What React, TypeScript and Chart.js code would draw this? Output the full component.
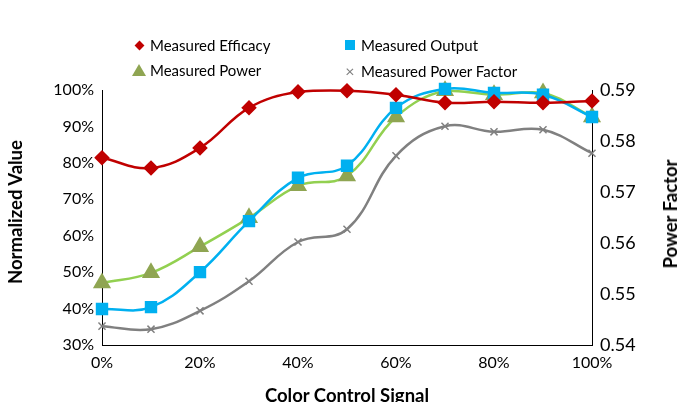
import React, { useEffect, useRef } from "react";
import { Chart, registerables } from "chart.js";
Chart.register(...registerables);

const signal = [0, 10, 20, 30, 40, 50, 60, 70, 80, 90, 100];
const efficacy = [81.4, 78.6, 84.1, 95.1, 99.5, 99.8, 98.7, 96.5, 96.8, 96.5, 97];
const output = [39.9, 40.4, 50, 64, 75.9, 79.2, 95.1, 100.3, 99.2, 98.7, 92.6];
const power = [47, 49.8, 57, 64.9, 73.7, 76.4, 92.6, 99.8, 98.7, 99.2, 92.6];
const powerFactor = [0.5437, 0.5431, 0.5467, 0.5525, 0.5602, 0.5627, 0.5771, 0.5829, 0.5818, 0.5822, 0.5776];

const FONT = "Lato, 'Open Sans', sans-serif";

export default function App() {
  const ref = useRef<HTMLCanvasElement>(null);
  useEffect(() => {
    document.body.style.margin = "0";
    const pts = (a: number[]) => a.map((v, i) => ({ x: signal[i], y: v }));
    const chart = new Chart(ref.current!, {
      type: "line",
      data: {
        datasets: [
          { label: "Measured Efficacy", data: pts(efficacy), borderColor: "#C00000", backgroundColor: "#C00000", pointStyle: "rectRot", pointRadius: 6, borderWidth: 2.5, tension: 0.4, yAxisID: "y", clip: false },
          { label: "Measured Output", data: pts(output), borderColor: "#00B0F0", backgroundColor: "#00B0F0", pointStyle: "rect", pointRadius: 7, borderWidth: 2.5, tension: 0.4, yAxisID: "y", clip: false },
          { label: "Measured Power", data: pts(power), borderColor: "#92D050", backgroundColor: "#8FA552", pointBorderColor: "#8FA552", pointStyle: "triangle", pointRadius: 8, borderWidth: 2.5, tension: 0.4, yAxisID: "y", clip: false },
          { label: "Measured Power Factor", data: pts(powerFactor), borderColor: "#808080", backgroundColor: "#808080", pointStyle: "cross", pointRotation: 45, pointRadius: 5, pointBorderWidth: 1.5, borderWidth: 2.5, tension: 0.4, yAxisID: "y2", clip: false },
        ],
      },
      options: {
        animation: false,
        responsive: false,
        layout: { padding: { top: 90, left: 0, right: 0, bottom: 0 } },
        plugins: { legend: { display: false }, tooltip: { enabled: false } },
        scales: {
          x: {
            type: "linear", min: 0, max: 100,
            afterFit: (s: any) => { s.height = 57; },
            ticks: { stepSize: 20, callback: (v: any) => v + "%", color: "#000", font: { family: FONT, size: 16 } },
            grid: { display: false, tickLength: 5 },
            border: { color: "#000", width: 1 },
            title: { display: false },
          },
          y: {
            position: "left", min: 30, max: 100,
            afterFit: (s: any) => { s.width = 102; },
            ticks: { stepSize: 10, callback: (v: any) => v + "%", color: "#000", font: { family: FONT, size: 16 } },
            grid: { display: false, tickLength: 5 },
            border: { color: "#000" },
            title: { display: false },
          },
          y2: {
            position: "right", min: 0.54, max: 0.59,
            afterFit: (s: any) => { s.width = 95; },
            ticks: { stepSize: 0.01, callback: (v: any) => Number(v).toFixed(2), color: "#000", font: { family: FONT, size: 18 } },
            grid: { display: false, tickLength: 5 },
            border: { color: "#000" },
            title: { display: false },
          },
        },
      } as any,
    });
    return () => chart.destroy();
  }, []);
  const item = (left: number, top: number, mark: React.ReactNode, text: string) => (
    <div style={{ position: "absolute", left, top, display: "flex", alignItems: "center", fontFamily: FONT, fontSize: 15, color: "#000", whiteSpace: "nowrap" }}>
      <span style={{ width: 14, display: "inline-flex", justifyContent: "center", marginRight: 4 }}>{mark}</span>{text}
    </div>
  );
  const title: React.CSSProperties = { position: "absolute", fontFamily: FONT, fontSize: 18.5, fontWeight: "bold", color: "#000", whiteSpace: "nowrap" };
  return (
    <div style={{ position: "relative", width: 687, height: 402, overflow: "hidden" }}>
      <canvas ref={ref} width={687} height={402} />
      {item(132, 36, <span style={{ width: 7, height: 7, background: "#C00000", transform: "rotate(45deg)" }} />, "Measured Efficacy")}
      {item(343, 36, <span style={{ width: 10, height: 10, background: "#00B0F0" }} />, "Measured Output")}
      {item(132, 61, <span style={{ width: 0, height: 0, borderLeft: "7px solid transparent", borderRight: "7px solid transparent", borderBottom: "12px solid #8FA552" }} />, "Measured Power")}
      {item(343, 61, <span style={{ color: "#808080", fontSize: 16 }}>×</span>, "Measured Power Factor")}
      <div style={{ ...title, left: 347, top: 395, transform: "translate(-50%,-50%)" }}>Color Control Signal</div>
      <div style={{ ...title, left: 15, top: 212, transform: "translate(-50%,-50%) rotate(-90deg)" }}>Normalized Value</div>
      <div style={{ ...title, left: 670, top: 214, transform: "translate(-50%,-50%) rotate(-90deg)" }}>Power Factor</div>
    </div>
  );
}
